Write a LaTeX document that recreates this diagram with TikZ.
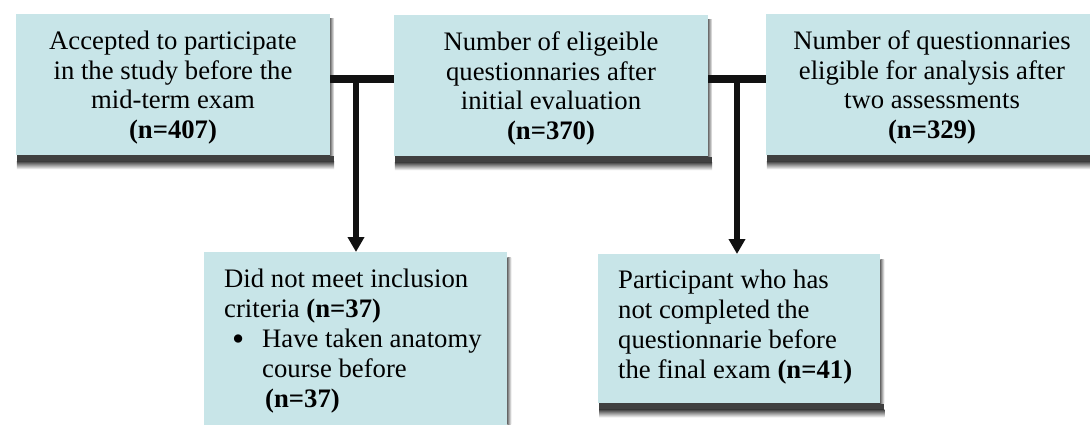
\documentclass[tikz,border=0pt]{standalone}
\usepackage{fontspec}
\setmainfont{Liberation Serif}
\usetikzlibrary{arrows.meta,backgrounds,calc}
\definecolor{boxfill}{RGB}{200,229,232}
\definecolor{linecol}{RGB}{17,17,17}
\newcommand{\toppad}{\rule{0pt}{24.5pt}}
\begin{document}
\begin{tikzpicture}[x=1pt,y=1pt,
  boxnode/.style={fill=boxfill, draw=none, inner sep=0pt, align=center, font=\fontsize{26.7}{29.5}\selectfont},
  plainbox/.style={fill=boxfill, draw=none, inner sep=0pt},
  txt/.style={inner sep=0pt, align=left, anchor=north west, font=\fontsize{26.7}{30}\selectfont},
  bar/.style={draw=linecol, line width=8pt},
  drop/.style={draw=linecol, line width=5.5pt, -{Triangle[length=15pt,width=16pt]}},
  shadesolid/.style={fill=black!75, draw=none},
  shadebelow/.style={top color=black!75, bottom color=white, draw=none},
  shaderight/.style={left color=black!55, right color=white, draw=none},
]
\useasboundingbox (0,0) rectangle (1090,-425);
\node[boxnode, minimum width=314, minimum height=141] (b1) at (173,-84.5)
  {\toppad Accepted to participate\\in the study before the\\mid-term exam\\\textbf{(n=407)}};
\node[boxnode, minimum width=314, minimum height=141] (b2) at (551,-85.5)
  {\toppad Number of eligeible\\questionnaries after\\initial evaluation\\\textbf{(n=370)}};
\node[boxnode, minimum width=332, minimum height=141] (b3) at (932,-84.5)
  {\toppad Number of questionnaries\\eligible for analysis after\\two assessments\\\textbf{(n=329)}};
\node[plainbox, minimum width=303, minimum height=190, anchor=north west] (b4) at (204,-252) {};
\node[txt] (t4) at ($(b4.north west)+(20,-17)$)
  {Did not meet inclusion\\criteria \textbf{(n=37)}\\
   \makebox[38pt][l]{\hspace*{8pt}\raisebox{-2.5pt}{\scalebox{1.3}{\textbullet}}}Have taken anatomy\\
   \hspace*{38pt}course before\\
   \hspace*{41pt}\textbf{(n=37)}};
\node[plainbox, minimum width=282, minimum height=149, anchor=north west] (b5) at (598,-254) {};
\node[txt] (t5) at ($(b5.north west)+(20,-16)$)
  {Participant who has\\not completed the\\questionnarie before\\the final exam \textbf{(n=41)}};
\coordinate (j1) at (356,-79);
\coordinate (j2) at (737,-79);
\draw[bar] (b1.east |- j1) -- (b2.west |- j1);
\draw[bar] (b2.east |- j2) -- (b3.west |- j2);
\draw[drop] (j1) -- (j1 |- b4.north);
\draw[drop] (j2) -- (j2 |- b5.north);
\begin{scope}[on background layer]
  \foreach \b in {b1,b2,b3,b5}{
    \fill[shadesolid] ($(\b.south west)+(1,0)$) rectangle ($(\b.south east)+(4,-6)$);
    \shade[shadebelow] ($(\b.south west)+(1,-6)$) rectangle ($(\b.south east)+(4,-14)$);
    \shade[shaderight] ($(\b.north east)+(0,-5)$) rectangle ($(\b.south east)+(4,0)$);
  }
  \shade[shaderight] ($(b4.north east)+(0,-5)$) rectangle ($(b4.south east)+(4,0)$);
\end{scope}
\end{tikzpicture}
\end{document}
